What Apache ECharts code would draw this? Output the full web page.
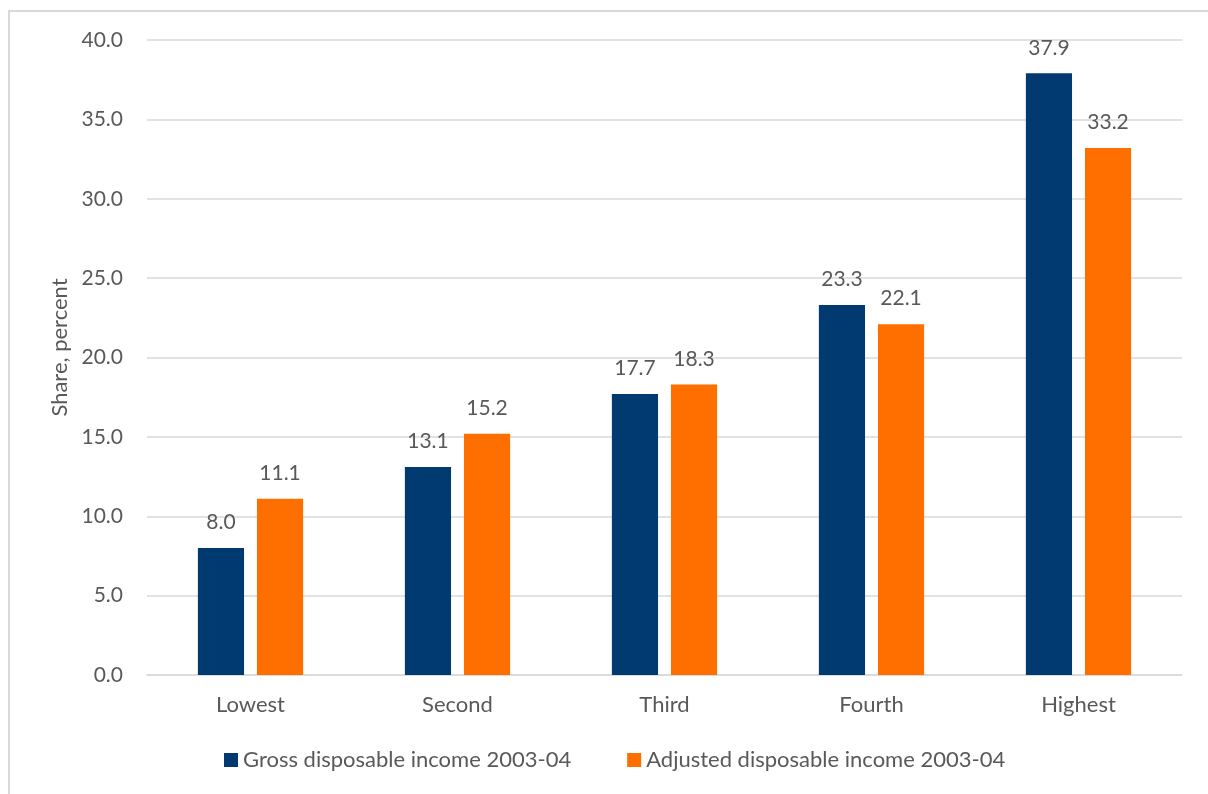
<!DOCTYPE html>
<html lang="en">
<head>
    <meta charset="UTF-8">
    <script type="text/javascript" src="https://cdn.jsdelivr.net/npm/echarts@6/dist/echarts.min.js"></script>
    <style>
        html, body { margin: 0; padding: 0; overflow: hidden; background: #fff; }
        #frame { position: absolute; left: 8px; top: 10px; width: 1300px; height: 900px; border: 2px solid #d9d9d9; box-sizing: border-box; }
        #incomeChart { position: absolute; left: 0; top: 0; width: 1208px; height: 794px; }
    </style>
</head>
<body>
    <div id="frame"></div>
    <div id="incomeChart"></div>
</body>

<script>
    // categories (quintiles)
    var quintiles = ["Lowest", "Second", "Third", "Fourth", "Highest"];
    // share values, percent
    var grossIncome = [8.0, 13.1, 17.7, 23.3, 37.9];
    var adjustedIncome = [11.1, 15.2, 18.3, 22.1, 33.2];
    var seriesNames = ["Gross disposable income 2003-04", "Adjusted disposable income 2003-04"];

    var textColor = "#595959";
    var fontName = "Lato";

    var incomeChart = echarts.init(document.getElementById("incomeChart"));

    function labelOpt() {
        return {
            show: true,
            position: "top",
            distance: 15,
            color: textColor,
            fontFamily: fontName,
            fontSize: 21,
            formatter: function (p) { return p.value.toFixed(1); }
        };
    }

    var option = {
        animation: false,
        textStyle: { fontFamily: fontName, color: textColor },
        grid: { left: 147, right: 26, top: 40, bottom: 119, containLabel: false },
        legend: {
            left: 219, top: 744,
            itemWidth: 14, itemHeight: 14, itemGap: 56,
            icon: "rect",
            textStyle: { color: textColor, fontSize: 22, fontFamily: fontName },
            data: seriesNames
        },
        xAxis: {
            type: "category",
            data: quintiles,
            axisLine: { lineStyle: { color: "#d9d9d9", width: 1.5 } },
            axisTick: { show: false },
            axisLabel: { color: textColor, fontSize: 22, fontFamily: fontName, margin: 19 }
        },
        yAxis: {
            type: "value",
            min: 0, max: 40, interval: 5,
            name: "Share, percent",
            nameLocation: "middle",
            nameGap: 76,
            nameTextStyle: { color: textColor, fontSize: 22, fontFamily: fontName, padding: [0, 0, 0, 20] },
            axisLine: { show: false },
            axisTick: { show: false },
            splitLine: { lineStyle: { color: "#d9d9d9", width: 1.5 } },
            axisLabel: {
                color: textColor, fontSize: 21, fontFamily: fontName, margin: 24,
                formatter: function (v) { return v.toFixed(1); }
            }
        },
        series: [
            {
                name: seriesNames[0], type: "bar", data: grossIncome,
                barWidth: "22.3%", barGap: "28%",
                itemStyle: { color: "#003A70" },
                label: labelOpt()
            },
            {
                name: seriesNames[1], type: "bar", data: adjustedIncome,
                barWidth: "22.3%",
                itemStyle: { color: "#FF6F00" },
                label: labelOpt()
            }
        ]
    };
    incomeChart.setOption(option);
</script>
</html>
